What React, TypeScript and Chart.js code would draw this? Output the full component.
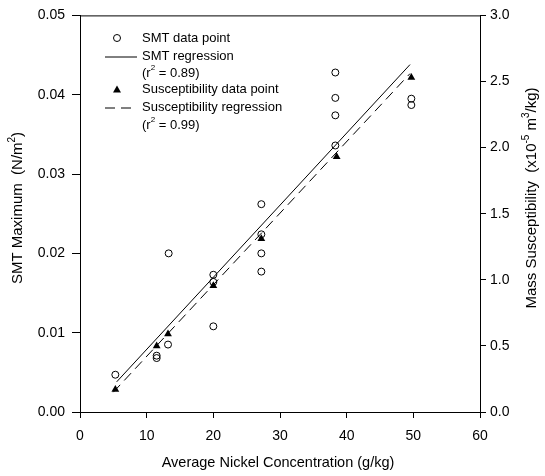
import React, { useEffect, useRef } from "react";
import { Chart, registerables } from "chart.js";
Chart.register(...registerables);

// SMT data points (left axis)
const smtX = [5.3, 11.5, 11.5, 13.2, 13.3, 20, 20, 20, 27.2, 27.2, 27.2, 27.2, 38.3, 38.3, 38.3, 38.3, 49.7, 49.7];
const smtY = [0.0047, 0.0071, 0.0068, 0.0085, 0.02, 0.0108, 0.0173, 0.0164, 0.0262, 0.0224, 0.02, 0.0177, 0.0428, 0.0396, 0.0374, 0.0336, 0.0395, 0.0387];
// Susceptibility data points (right axis)
const susX = [5.3, 11.5, 13.2, 20, 27.2, 38.5, 49.7];
const susY = [0.17, 0.5, 0.59, 0.955, 1.31, 1.93, 2.53];
// Regression line end points
const smtRegX = [5.5, 49.5];
const smtRegY = [0.0038, 0.0438];
const susRegX = [5.0, 49.5];
const susRegY = [0.15, 2.56];

const xTicks = [0, 10, 20, 30, 40, 50, 60];
const FONT = "'Liberation Sans', Arial, sans-serif";

type Part = { t: string; sup?: boolean };

function drawRich(ctx: CanvasRenderingContext2D, parts: Part[], x: number, y: number, size: number, align: "left" | "center") {
  const supSize = Math.round(size * 0.65);
  let total = 0;
  const widths = parts.map((p) => {
    ctx.font = `${p.sup ? supSize : size}px ${FONT}`;
    const w = ctx.measureText(p.t).width;
    total += w;
    return w;
  });
  let cx = align === "center" ? x - total / 2 : x;
  ctx.textBaseline = "middle";
  ctx.textAlign = "left";
  parts.forEach((p, i) => {
    ctx.font = `${p.sup ? supSize : size}px ${FONT}`;
    ctx.fillText(p.t, cx, p.sup ? y - size * 0.38 : y);
    cx += widths[i];
  });
}

const overlay = {
  id: "overlay",
  afterDraw(chart: any) {
    const ctx: CanvasRenderingContext2D = chart.ctx;
    const a = chart.chartArea;
    ctx.save();
    ctx.strokeStyle = "#000";
    ctx.fillStyle = "#000";
    ctx.lineWidth = 1;
    // top frame
    ctx.beginPath();
    ctx.moveTo(a.left, a.top + 0.5);
    ctx.lineTo(a.right, a.top + 0.5);
    ctx.stroke();

    // left title
    ctx.save();
    ctx.translate(18, 208);
    ctx.rotate(-Math.PI / 2);
    drawRich(ctx, [{ t: "SMT Maximum  (N/m" }, { t: "2", sup: true }, { t: ")" }], 0, 0, 15, "center");
    ctx.restore();

    // right title
    ctx.save();
    ctx.translate(532, 198);
    ctx.rotate(-Math.PI / 2);
    drawRich(
      ctx,
      [{ t: "Mass Susceptibility  (x10" }, { t: "-5", sup: true }, { t: " m" }, { t: "3", sup: true }, { t: "/kg)" }],
      0, 0, 15, "center"
    );
    ctx.restore();

    // x title
    drawRich(ctx, [{ t: "Average Nickel Concentration (g/kg)" }], 278, 463, 14.5, "center");

    // legend
    const sx = 117, tx = 142;
    ctx.beginPath();
    ctx.arc(sx, 38, 3.5, 0, Math.PI * 2);
    ctx.stroke();
    drawRich(ctx, [{ t: "SMT data point" }], tx, 38, 13, "left");

    ctx.beginPath();
    ctx.moveTo(105, 57);
    ctx.lineTo(137, 57);
    ctx.stroke();
    drawRich(ctx, [{ t: "SMT regression" }], tx, 56, 13, "left");
    drawRich(ctx, [{ t: "(r" }, { t: "2", sup: true }, { t: " = 0.89)" }], tx, 73, 13, "left");

    ctx.beginPath();
    ctx.moveTo(sx, 85.5);
    ctx.lineTo(sx + 4, 92.5);
    ctx.lineTo(sx - 4, 92.5);
    ctx.closePath();
    ctx.fill();
    drawRich(ctx, [{ t: "Susceptibility data point" }], tx, 89, 13, "left");

    ctx.setLineDash([10, 6]);
    ctx.beginPath();
    ctx.moveTo(105, 108);
    ctx.lineTo(137, 108);
    ctx.stroke();
    ctx.setLineDash([]);
    drawRich(ctx, [{ t: "Susceptibility regression" }], tx, 107, 13, "left");
    drawRich(ctx, [{ t: "(r" }, { t: "2", sup: true }, { t: " = 0.99)" }], tx, 125, 13, "left");

    ctx.restore();
  },
};

export default function App() {
  const ref = useRef<HTMLCanvasElement | null>(null);
  useEffect(() => {
    if (!ref.current) return;
    const tickFont = { family: FONT, size: 14 };
    const chart = new Chart(ref.current, {
      type: "scatter",
      data: {
        datasets: [
          {
            label: "SMT data point",
            data: smtX.map((x, i) => ({ x, y: smtY[i] })),
            yAxisID: "y",
            pointStyle: "circle",
            pointRadius: 3.5,
            backgroundColor: "rgba(255,255,255,0)",
            borderColor: "#000",
            borderWidth: 1,
          },
          {
            label: "Susceptibility data point",
            data: susX.map((x, i) => ({ x, y: susY[i] })),
            yAxisID: "y2",
            pointStyle: "triangle",
            pointRadius: 4.5,
            backgroundColor: "#000",
            borderColor: "#000",
            borderWidth: 0,
          },
          {
            type: "line",
            label: "SMT regression",
            data: smtRegX.map((x, i) => ({ x, y: smtRegY[i] })),
            yAxisID: "y",
            borderColor: "#000",
            borderWidth: 1,
            pointRadius: 0,
            showLine: true,
          } as any,
          {
            type: "line",
            label: "Susceptibility regression",
            data: susRegX.map((x, i) => ({ x, y: susRegY[i] })),
            yAxisID: "y2",
            borderColor: "#000",
            borderWidth: 1,
            borderDash: [10, 6],
            pointRadius: 0,
            showLine: true,
          } as any,
        ],
      },
      options: {
        responsive: false,
        animation: false,
        layout: { padding: { top: 13, left: 0, right: 0, bottom: 0 } },
        plugins: { legend: { display: false }, tooltip: { enabled: false } },
        scales: {
          x: {
            type: "linear",
            min: 0,
            max: 60,
            afterBuildTicks: (s: any) => {
              s.ticks = xTicks.map((v) => ({ value: v }));
            },
            afterFit: (s: any) => {
              s.height = 64;
            },
            ticks: { font: tickFont, color: "#000", padding: 10 },
            grid: { drawOnChartArea: false, tickLength: 6, color: "#000" },
            border: { color: "#000", width: 1 },
          },
          y: {
            type: "linear",
            position: "left",
            min: 0,
            max: 0.05,
            ticks: {
              stepSize: 0.01,
              font: tickFont,
              color: "#000",
              padding: 7,
              callback: (v: any) => Number(v).toFixed(2),
            },
            afterFit: (s: any) => {
              s.width = 80;
            },
            grid: { drawOnChartArea: false, tickLength: 8, color: "#000" },
            border: { color: "#000", width: 1 },
          },
          y2: {
            type: "linear",
            position: "right",
            min: 0,
            max: 3,
            ticks: {
              stepSize: 0.5,
              font: tickFont,
              color: "#000",
              padding: 4,
              callback: (v: any) => Number(v).toFixed(1),
            },
            afterFit: (s: any) => {
              s.width = 65;
            },
            grid: { drawOnChartArea: false, tickLength: 6, color: "#000" },
            border: { color: "#000", width: 1 },
          },
        },
      },
      plugins: [overlay],
    });
    return () => chart.destroy();
  }, []);
  return (
    <div style={{ position: "absolute", left: 0, top: 0, width: 545, height: 476, background: "#fff" }}>
      <canvas ref={ref} width={545} height={476} />
    </div>
  );
}
